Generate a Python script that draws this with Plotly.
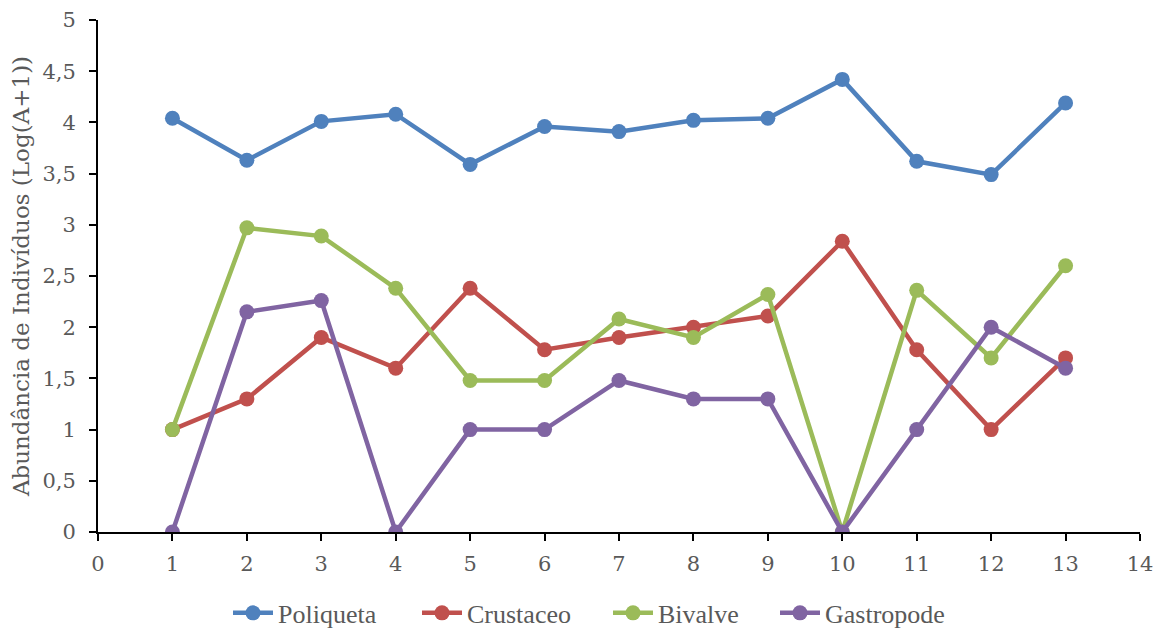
import plotly.graph_objects as go

sites = list(range(1, 14))
poliqueta = [4.04, 3.63, 4.01, 4.08, 3.59, 3.96, 3.91, 4.02, 4.04, 4.42, 3.62, 3.49, 4.19]
crustaceo = [1.00, 1.30, 1.90, 1.60, 2.38, 1.78, 1.90, 2.00, 2.11, 2.84, 1.78, 1.00, 1.70]
bivalve = [1.00, 2.97, 2.89, 2.38, 1.48, 1.48, 2.08, 1.90, 2.32, 0.00, 2.36, 1.70, 2.60]
gastropode = [0.00, 2.15, 2.26, 0.00, 1.00, 1.00, 1.48, 1.30, 1.30, 0.00, 1.00, 2.00, 1.60]

series = [
    ("Poliqueta", poliqueta, "#4F81BD"),
    ("Crustaceo", crustaceo, "#C0504D"),
    ("Bivalve", bivalve, "#9BBB59"),
    ("Gastropode", gastropode, "#8064A2"),
]

# each series gets its own legend box so the entries sit at their own x positions
legend_ids = ["legend", "legend2", "legend3", "legend4"]
legend_left_px = [228, 417, 608, 775]

W, H = 1163, 628

fig = go.Figure()
for (name, vals, color), lid in zip(series, legend_ids):
    fig.add_trace(go.Scatter(
        x=sites, y=vals, name=name, mode="lines+markers",
        line=dict(color=color, width=4.5),
        marker=dict(color=color, size=15),
        legend=lid,
    ))

axis_font = dict(family="DejaVu Serif", size=21, color="#595959")
legend_font = dict(family="Liberation Serif", size=26, color="#595959")

legend_layout = {}
for lid, left in zip(legend_ids, legend_left_px):
    legend_layout[lid] = dict(
        orientation="h", x=left / W, xanchor="left", xref="container",
        y=0.024, yanchor="middle", yref="container",
        font=legend_font, itemwidth=40, bgcolor="rgba(0,0,0,0)",
    )

fig.update_layout(
    width=W, height=H,
    margin=dict(l=98, r=23, t=20, b=96, autoexpand=False),
    paper_bgcolor="white", plot_bgcolor="white",
    showlegend=True,
    xaxis=dict(range=[0, 14], dtick=1, tick0=0, showgrid=False, zeroline=False,
               showline=True, linecolor="black", linewidth=2,
               ticks="outside", ticklen=7, tickcolor="black", tickwidth=2,
               tickfont=axis_font, ticklabelstandoff=5),
    yaxis=dict(range=[0, 5], dtick=0.5, showgrid=False, zeroline=False,
               showline=True, linecolor="black", linewidth=2,
               ticks="outside", ticklen=7, tickcolor="black", tickwidth=2,
               tickfont=axis_font, ticklabelstandoff=9,
               title=dict(text="Abundância de Indivíduos (Log(A+1))",
                          font=dict(family="DejaVu Serif", size=23, color="#595959"),
                          standoff=6)),
    separators=",.",
    **legend_layout,
)

fig.write_html("out.html")
